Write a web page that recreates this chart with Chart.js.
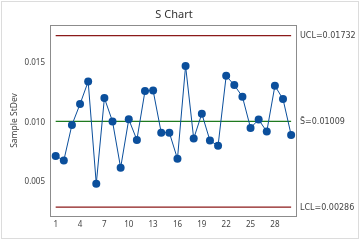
<!DOCTYPE html>
<html>
<head>
<meta charset="utf-8">
<script src="https://cdn.jsdelivr.net/npm/chart.js@4.4.0/dist/chart.umd.min.js"></script>
<style>
  html, body { margin: 0; padding: 0; background: #fff; }
  #wrap { width: 360px; height: 240px; }
</style>
</head>
<body>
<div id="wrap"><canvas id="chart" width="360" height="240"></canvas></div>
<script>
// sample standard deviations, subgroups 1..30
var samples = [1,2,3,4,5,6,7,8,9,10,11,12,13,14,15,16,17,18,19,20,21,22,23,24,25,26,27,28,29,30];
var stdev = [0.00718,0.00679,0.00979,0.01155,0.01345,0.00483,0.01206,0.01009,0.00618,0.01026,
             0.00853,0.01265,0.01270,0.00914,0.00914,0.00693,0.01477,0.00864,0.01074,0.00847,
             0.00803,0.01393,0.01315,0.01217,0.00954,0.01024,0.00923,0.01309,0.01197,0.00895];
var ucl = 0.01732;
var center = 0.01009;
var lcl = 0.00286;
var xTicks = [1,4,7,10,13,16,19,22,25,28];
var yTicks = [0.005, 0.010, 0.015];
var limitLabels = ['UCL=0.01732', 'S\u0304=0.01009', 'LCL=0.00286'];

var font = "'Noto Sans', 'DejaVu Sans', sans-serif";
var blue = '#0b4f9c';

function hline(v) {
    return [{x: samples[0], y: v}, {x: samples[samples.length - 1], y: v}];
}

var pts = samples.map((s, i) => ({x: s, y: stdev[i]}));

var extras = {
    id: 'extras',
    beforeDraw(chart) {
        var c = chart.ctx;
        c.save();
        c.fillStyle = '#fff';
        c.fillRect(0, 0, chart.width, chart.height);
        c.strokeStyle = '#dcdcdc';
        c.lineWidth = 1;
        c.strokeRect(1.5, 1.5, chart.width - 3, chart.height - 3);
        c.restore();
    },
    afterDraw(chart) {
        var c = chart.ctx;
        var a = chart.chartArea;
        var y = chart.scales.y;
        c.save();
        c.strokeStyle = '#8c8c8c';
        c.lineWidth = 1;
        c.strokeRect(Math.round(a.left) + 0.5, Math.round(a.top) + 0.5, Math.round(a.right - a.left), Math.round(a.bottom - a.top));
        // title
        c.fillStyle = '#333';
        c.font = '11px ' + font;
        c.textAlign = 'center';
        c.textBaseline = 'middle';
        c.fillText('S Chart', (a.left + a.right) / 2 + 1, 15);
        // limit labels
        c.font = "8px 'DejaVu Sans', sans-serif";
        c.fillStyle = '#444';
        c.textAlign = 'left';
        var vals = [ucl, center, lcl];
        vals.forEach((v, i) => {
            c.fillText(limitLabels[i], a.right + 4, y.getPixelForValue(v) + 0.5);
        });
        c.restore();
    }
};

new Chart(document.getElementById('chart'), {
    type: 'scatter',
    data: {
        datasets: [
            {
                data: pts,
                showLine: true,
                borderColor: blue,
                backgroundColor: blue,
                borderWidth: 1,
                pointRadius: 4,
                pointBorderWidth: 0,
                order: 0
            },
            {data: hline(ucl), showLine: true, borderColor: '#8b1a1a', borderWidth: 1.2, pointRadius: 0, order: 1},
            {data: hline(center), showLine: true, borderColor: '#1f7a1f', borderWidth: 1.2, pointRadius: 0, order: 1},
            {data: hline(lcl), showLine: true, borderColor: '#8b1a1a', borderWidth: 1.2, pointRadius: 0, order: 1}
        ]
    },
    options: {
        responsive: false,
        animation: false,
        layout: {padding: {top: 25, right: 64, left: 9, bottom: 0}},
        plugins: {legend: {display: false}, tooltip: {enabled: false}, title: {display: false}},
        scales: {
            x: {
                type: 'linear',
                min: 0.3,
                max: 30.6,
                grid: {display: false, drawTicks: true, tickLength: 3, color: '#8c8c8c'},
                border: {display: false},
                afterBuildTicks: s => { s.ticks = xTicks.map(v => ({value: v})); },
                afterFit: s => { s.height = 24; },
                ticks: {color: '#444', font: {family: font, size: 8}, padding: 1, maxRotation: 0,
                        callback: v => String(v)}
            },
            y: {
                type: 'linear',
                min: 0.00211,
                max: 0.01822,
                grid: {display: false, drawTicks: true, tickLength: 3, color: '#8c8c8c'},
                border: {display: false},
                afterBuildTicks: s => { s.ticks = yTicks.map(v => ({value: v})); },
                afterFit: s => { s.width = 41; },
                title: {display: true, text: 'Sample StDev', color: '#444', font: {family: font, size: 8.5}, padding: {top: 0, bottom: 2}},
                ticks: {color: '#444', font: {family: font, size: 8}, padding: 2,
                        callback: v => v.toFixed(3)}
            }
        }
    },
    plugins: [extras]
});
</script>
</body>
</html>
